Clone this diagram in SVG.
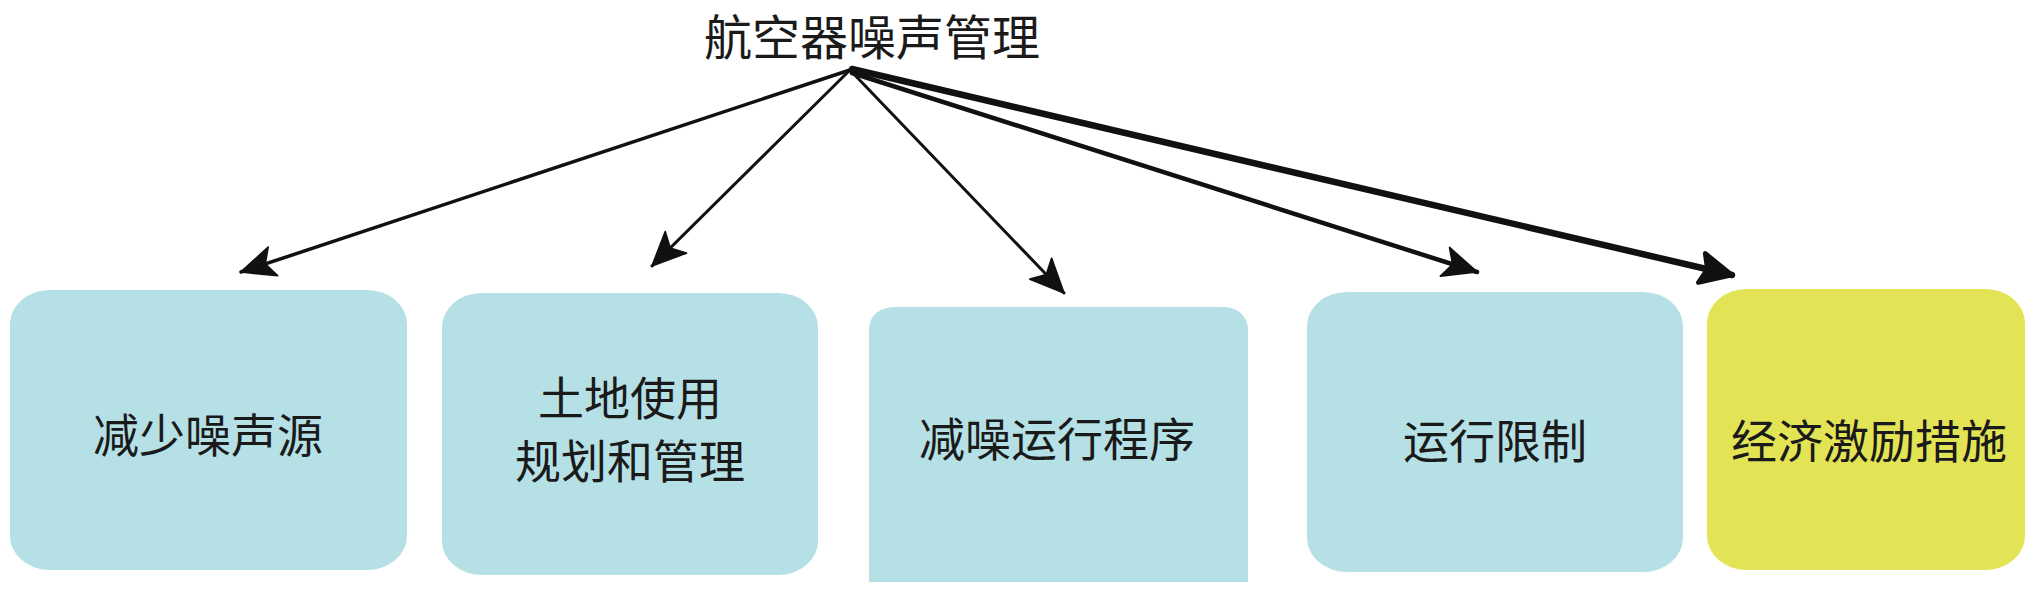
<svg xmlns="http://www.w3.org/2000/svg" width="2037" height="593" viewBox="0 0 2037 593">
  <style>
    .blue { fill: #b5e0e5; }
    .yellow { fill: #e3e455; }
    .lbl { font-family: "Noto Sans CJK SC", "Noto Sans", sans-serif; font-size: 46px; fill: #1a1a1a; text-anchor: middle; }
    .title { font-family: "Noto Sans CJK SC", "Noto Sans", sans-serif; font-size: 48px; fill: #1a1a1a; text-anchor: middle; }
    .conn { stroke: #111; fill: none; stroke-linecap: round; }
  </style>
  <defs>
    <marker id="ah" markerUnits="userSpaceOnUse" markerWidth="44" markerHeight="44" viewBox="-34 -17 38 34" refX="0" refY="0" orient="auto">
      <path d="M0,0 L-29,-13 L-22,0 L-29,13 Z" fill="#111" stroke="#111" stroke-width="1.5" stroke-linejoin="round"/>
    </marker>
    <marker id="ahb" markerUnits="userSpaceOnUse" markerWidth="46" markerHeight="46" viewBox="-34 -19 40 38" refX="0" refY="0" orient="auto">
      <path d="M0,0 L-27,-13 L-22,0 L-27,13 Z" fill="#111" stroke="#111" stroke-width="4" stroke-linejoin="round"/>
    </marker>
  </defs>

  <g id="title">
    <text class="title" x="872" y="55">航空器噪声管理</text>
  </g>

  <g id="connectors">
    <line class="conn" x1="850" y1="70" x2="241" y2="272" stroke-width="3.5" marker-end="url(#ah)"/>
    <line class="conn" x1="850" y1="70" x2="652" y2="266" stroke-width="3" marker-end="url(#ah)"/>
    <line class="conn" x1="850" y1="70" x2="1064" y2="293" stroke-width="3" marker-end="url(#ah)"/>
    <line class="conn" x1="852" y1="73" x2="1477" y2="272" stroke-width="4.5" marker-end="url(#ah)"/>
    <line class="conn" x1="852" y1="69" x2="1732" y2="275" stroke-width="6.5" marker-end="url(#ahb)"/>
  </g>

  <g id="node1">
    <rect class="blue" x="10" y="290" width="397" height="280" rx="40" ry="34"/>
    <text class="lbl" x="208" y="452">减少噪声源</text>
  </g>

  <g id="node2">
    <rect class="blue" x="442" y="293" width="376" height="282" rx="40" ry="34"/>
    <text class="lbl" x="630" y="415">土地使用</text>
    <text class="lbl" x="630" y="478">规划和管理</text>
  </g>

  <g id="node3">
    <path class="blue" d="M869,582 L869,327 Q872,307 897,307 L1222,307 Q1244,307 1248,327 L1248,582 Z"/>
    <text class="lbl" x="1057" y="456">减噪运行程序</text>
  </g>

  <g id="node4">
    <rect class="blue" x="1307" y="292" width="376" height="280" rx="40" ry="34"/>
    <text class="lbl" x="1495" y="458">运行限制</text>
  </g>

  <g id="node5">
    <rect class="yellow" x="1707" y="289" width="318" height="281" rx="40" ry="34"/>
    <text class="lbl" x="1869" y="458">经济激励措施</text>
  </g>
</svg>
